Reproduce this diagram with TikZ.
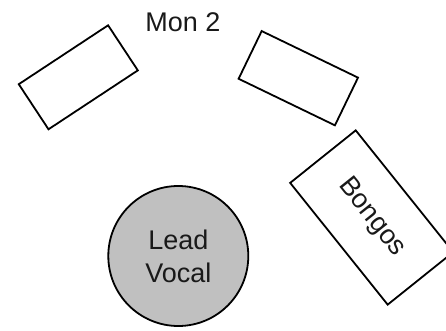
\documentclass[tikz,border=0pt]{standalone}
\usepackage{fontspec}
\setmainfont{Liberation Sans}
\begin{document}
\begin{tikzpicture}[x=1pt,y=-1pt,
  wedge/.style={draw=black,line width=1.8pt,rectangle,inner sep=0pt,fill=white},
  lbl/.style={font=\fontsize{27}{33}\selectfont,text=black!90}]
\useasboundingbox (0,0) rectangle (446,331);
\clip (0,0) rectangle (446,331);
\node[wedge,minimum width=107pt,minimum height=54pt,rotate=33.4] (mon1) at (78.3,77.3) {};
\node[wedge,minimum width=107pt,minimum height=53pt,rotate=-25.8] (mon2) at (298.3,78.2) {};
\node[lbl] (monlabel) at (183,22) {Mon 2};
\node[wedge,minimum width=156pt,minimum height=84pt,rotate=-51.3,lbl] (bongos) at (371.7,217.5) {Bongos};
\node[circle,draw=black,line width=1.8pt,fill={rgb,255:red,192;green,192;blue,192},minimum size=140pt,inner sep=0pt,align=center,lbl] (lead) at (178.3,256) {Lead\\Vocal};
\end{tikzpicture}
\end{document}
